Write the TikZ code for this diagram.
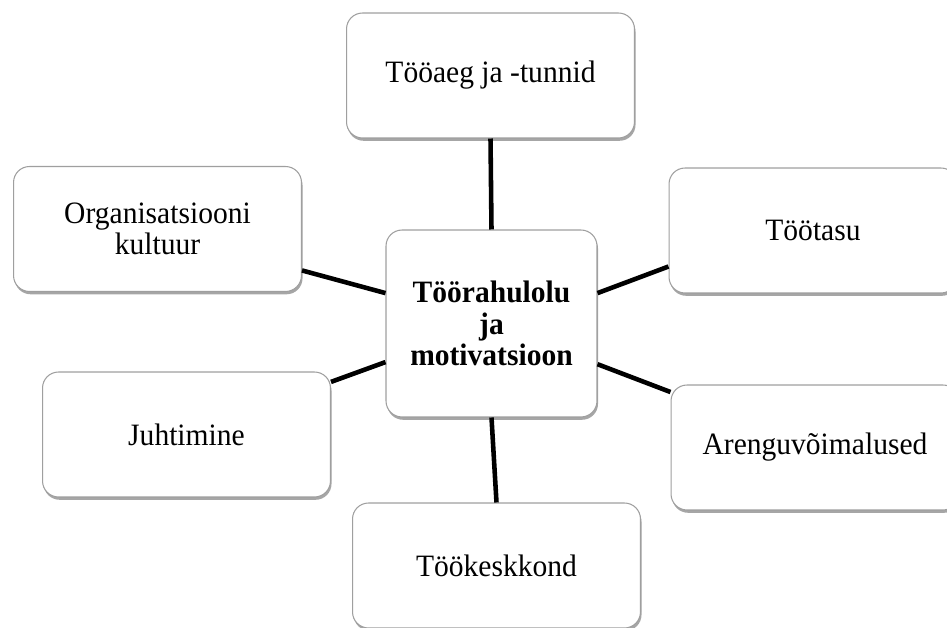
\documentclass[tikz,border=0pt]{standalone}
\usepackage{fontspec}
\setmainfont[FakeStretch=0.95]{Liberation Serif}
\usetikzlibrary{shadows, positioning}

\begin{document}
\begin{tikzpicture}[x=0.02cm, y=-0.02cm,
  box/.style={draw=gray!75, line width=0.6pt, fill=white, rounded corners=0.32cm,
    minimum width=5.76cm, minimum height=2.5cm, align=center,
    font=\fontsize{17.7}{17.8}\selectfont,
    drop shadow={shadow xshift=0.6pt, shadow yshift=-1.6pt, opacity=0.35, fill=black}},
  hub/.style={box, minimum width=4.22cm, minimum height=3.74cm,
    font=\fontsize{17.7}{17.8}\selectfont\bfseries},
  link/.style={line width=2.6pt}]
\useasboundingbox (0,0) rectangle (947,628);

\node[hub] (ctr) at (491.5,323.5) {Töörahulolu\\ja\\motivatsioon};
\node[box] (aeg) at (490.5,75.5) {Tööaeg ja -tunnid};
\node[box] (kult) at (157.5,229) {Organisatsiooni\\kultuur};
\node[box] (tasu) at (813,230.5) {Töötasu};
\node[box] (juht) at (186.5,434.5) {Juhtimine};
\node[box] (areng) at (815,447.5) {Arenguvõimalused};
\node[box] (kesk) at (496.5,565.5) {Töökeskkond};

\draw[link] (ctr.north) -- (aeg.south);
\draw[link] (ctr.south) -- (kesk.north);
\draw[link] (ctr.16) -- (tasu.194.6);
\draw[link] (ctr.-21.4) -- (areng.159);
\draw[link] (ctr.164) -- (kult.-16);
\draw[link] (ctr.200) -- (juht.20);

\end{tikzpicture}
\end{document}
